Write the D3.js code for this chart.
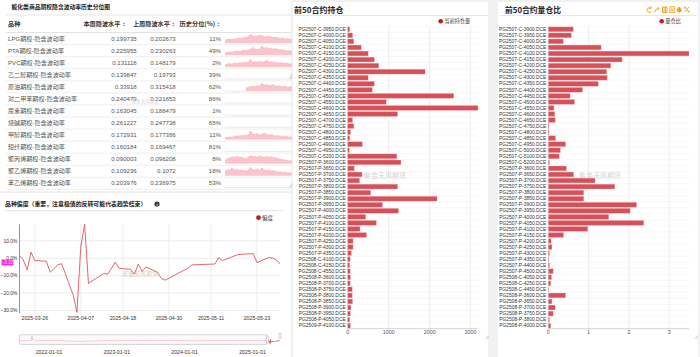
<!DOCTYPE html>
<html><head><meta charset="utf-8">
<script src="https://cdn.jsdelivr.net/npm/d3@7"></script>
<style>
html,body{margin:0;padding:0;background:#f1f1f1;}
svg{display:block;font-family:"Liberation Sans","Noto Sans CJK SC",sans-serif;}
</style></head><body>
<svg id="c" width="700" height="357"></svg>
<script>
// ---------------- DATA ----------------
const tableTitle = "能化类商品期权隐含波动率历史分位图";
const tableHeaders = ["品种", "本周隐波水平", "上周隐波水平", "历史分位(%)"];
const varieties = ["LPG期权-隐含波动率","PTA期权-隐含波动率","PVC期权-隐含波动率","乙二醇期权-隐含波动率","原油期权-隐含波动率","对二甲苯期权-隐含波动率","尿素期权-隐含波动率","烧碱期权-隐含波动率","甲醇期权-隐含波动率","短纤期权-隐含波动率","聚丙烯期权-隐含波动率","聚乙烯期权-隐含波动率","苯乙烯期权-隐含波动率"];
const thisWeekVol = [0.199735,0.225955,0.131118,0.139847,0.33918,0.240479,0.163045,0.261227,0.172931,0.160184,0.090003,0.109236,0.203976];
const lastWeekVol = [0.202673,0.230263,0.148179,0.19793,0.315418,0.221853,0.188479,0.247738,0.177386,0.169467,0.096208,0.1072,0.236975];
const histPercentile = [11,49,2,39,62,86,1,65,11,81,8,18,53];
const N = null;
const sparkLPG = [0.3,0.35,0.4,0.35,0.4,0.45,0.5,0.45,0.5,0.55,0.6,0.9,0.7,0.65,0.7,0.8,0.75,0.6,0.65,0.7,0.6,0.55,0.6,0.5,0.45,0.5,0.4,0.45,0.35,0.4];
const sparkPTA = [0.2,0.25,0.3,0.3,0.35,0.4,0.35,0.4,0.5,0.45,0.5,0.55,0.8,0.6,0.55,0.6,0.9,0.7,0.8,0.65,0.7,0.6,0.65,0.55,0.5,0.55,0.45,0.4,0.45,0.35];
const sparkPVC = [0.2,0.3,0.35,0.3,0.4,0.35,0.4,0.45,0.4,0.5,0.45,0.8,0.5,0.55,0.5,0.6,0.5,0.55,0.7,0.5,0.55,0.45,0.5,0.4,0.45,0.4,0.35,0.4,0.3,0.35];
const sparkEG = [N,N,N,N,N,N,N,N,N,N,N,N,N,N,N,N,N,N,N,N,N,N,N,N,N,N,N,N,0.0,0.55];
const sparkSC = [N,N,N,N,N,N,N,N,N,0.3,0.4,0.45,0.5,0.45,0.55,0.5,0.8,0.6,0.7,0.55,0.6,0.65,0.5,0.55,0.5,0.45,0.5,0.4,0.45,0.4];
const sparkEmpty = [];
const sparkMA = [0.15,0.2,0.25,0.2,0.3,0.35,0.3,0.4,0.35,0.45,0.4,0.85,0.55,0.5,0.6,0.45,0.5,0.65,0.5,0.45,0.5,0.4,0.35,0.4,0.3,0.35,0.25,0.3,0.2,0.3];
const sparkPP = [0.3,0.5,0.55,0.7,0.6,0.75,0.6,0.65,0.55,0.5,0.6,0.8,0.7,0.75,0.6,0.8,0.7,0.6,0.75,0.6,0.7,0.55,0.6,0.5,0.45,0.4,0.35,0.3,0.25,0.3];
const sparkPE = [0.4,0.6,0.55,0.8,0.6,0.65,0.5,0.55,0.5,0.45,0.5,0.85,0.6,0.55,0.7,0.55,0.8,0.55,0.5,0.6,0.45,0.5,0.4,0.35,0.4,0.3,0.35,0.25,0.3,0.2];
const sparkEB = [N,N,N,N,N,N,N,N,N,N,N,N,N,N,N,N,N,N,N,N,N,N,N,N,N,N,N,N,0.0,0.4];
const sparkRows = [sparkLPG,sparkPTA,sparkPVC,sparkEG,sparkSC,sparkEmpty,sparkEmpty,sparkEmpty,sparkMA,sparkEmpty,sparkPP,sparkPE,sparkEB];

const skewTitle = "品种偏度（重要，注意极值的反转可能代表趋势结束）";
const skewLegend = "偏度";
const skewDates = ["2025-03-22","2025-03-23","2025-03-24","2025-03-25","2025-03-26","2025-03-29","2025-03-30","2025-04-01","2025-04-02","2025-04-05","2025-04-06","2025-04-07","2025-04-08","2025-04-09","2025-04-13","2025-04-14","2025-04-16","2025-04-17","2025-04-20","2025-04-21","2025-04-22","2025-04-23","2025-04-24","2025-04-27","2025-04-28","2025-04-29","2025-05-05","2025-05-06","2025-05-12","2025-05-13","2025-05-14","2025-05-16","2025-05-18","2025-05-22","2025-05-23","2025-05-26","2025-05-27","2025-05-28","2025-05-29"];
const skewValues = [1.5,-1.0,-6.7,3.5,-1.3,-1.7,-8.0,-3.8,-3.1,-21,-31,6.7,19.5,-14.4,-8.7,-9.2,-2.3,-5.8,-6.3,-9.2,-3.3,-7.5,-5.0,-8.0,-11.5,-12.6,-5.7,-3.8,-3.3,0.4,-1.3,0.4,2.1,2.7,-2.5,0.4,0.2,-1.0,-3.1];
const skewTickLabels = ["2025-03-26","2025-04-07","2025-04-18","2025-04-30","2025-05-11","2025-05-23"];
const skewYTicks = [-30,-20,-10,0,10];
const histDates = ["2021-07-25","2021-08-15","2021-09-05","2021-09-28","2021-10-01","2021-10-05","2021-10-20","2021-11-15","2021-12-15","2022-01-15","2022-02-15","2022-03-15","2022-04-15","2022-05-15","2022-06-15","2022-06-28","2022-07-10","2022-08-15","2022-09-15","2022-10-15","2022-11-15","2022-12-15","2023-01-15","2023-02-15","2023-03-15","2023-04-15","2023-05-15","2023-06-15","2023-07-15","2023-08-15","2023-09-15","2023-10-15","2023-11-15","2023-12-15","2024-01-15","2024-02-15","2024-03-15","2024-04-15","2024-05-15","2024-06-15","2024-07-15","2024-08-15","2024-09-15","2024-10-15","2024-11-15","2024-12-15","2025-01-15","2025-02-15","2025-03-15"];
const histValues = [1,3,2,5,58,12,6,3,4,2,5,1,-3,-2,-6,-12,-4,-2,0,1,3,2,1,3,2,4,3,5,6,4,5,3,2,3,1,2,0,2,1,3,2,1,3,6,2,4,1,3,2];
const sliderTickLabels = ["2022-01-01","2023-01-01","2024-01-01","2025-01-01"];

const holdTitle = "前50合约持仓";
const holdLegend = "当前持仓量";
const holdLabels = ["PG2507-C-3950.DCE","PG2507-C-4000.DCE","PG2507-C-4050.DCE","PG2507-C-4100.DCE","PG2507-C-4150.DCE","PG2507-C-4200.DCE","PG2507-C-4250.DCE","PG2507-C-4300.DCE","PG2507-C-4350.DCE","PG2507-C-4400.DCE","PG2507-C-4450.DCE","PG2507-C-4500.DCE","PG2507-C-4550.DCE","PG2507-C-4600.DCE","PG2507-C-4650.DCE","PG2507-C-4700.DCE","PG2507-C-4750.DCE","PG2507-C-4800.DCE","PG2507-C-4850.DCE","PG2507-C-4900.DCE","PG2507-C-4950.DCE","PG2507-C-5200.DCE","PG2507-P-3600.DCE","PG2507-P-3650.DCE","PG2507-P-3700.DCE","PG2507-P-3750.DCE","PG2507-P-3800.DCE","PG2507-P-3850.DCE","PG2507-P-3900.DCE","PG2507-P-3950.DCE","PG2507-P-4000.DCE","PG2507-P-4050.DCE","PG2507-P-4100.DCE","PG2507-P-4150.DCE","PG2507-P-4200.DCE","PG2507-P-4250.DCE","PG2507-P-4300.DCE","PG2507-P-4350.DCE","PG2508-C-4100.DCE","PG2508-C-4150.DCE","PG2508-C-4550.DCE","PG2508-P-3600.DCE","PG2508-P-3700.DCE","PG2508-P-3750.DCE","PG2508-P-3800.DCE","PG2508-P-3850.DCE","PG2508-P-3900.DCE","PG2508-P-3950.DCE","PG2508-P-4050.DCE","PG2509-P-4100.DCE"];
const holdValues = [50,120,150,330,500,650,760,1890,500,650,600,2590,940,3180,1220,120,150,70,50,360,40,1200,1300,160,350,290,1220,560,2180,850,1240,440,700,300,460,130,130,90,60,50,60,70,60,110,110,120,80,65,50,65];
const holdTicks = [0,1000,2000,3000];

const ratioTitle = "前50合约量仓比";
const ratioLegend = "量仓比";
const ratioLabels = ["PG2507-C-3900.DCE","PG2507-C-3950.DCE","PG2507-C-4000.DCE","PG2507-C-4050.DCE","PG2507-C-4100.DCE","PG2507-C-4150.DCE","PG2507-C-4200.DCE","PG2507-C-4250.DCE","PG2507-C-4300.DCE","PG2507-C-4350.DCE","PG2507-C-4400.DCE","PG2507-C-4450.DCE","PG2507-C-4500.DCE","PG2507-C-4550.DCE","PG2507-C-4600.DCE","PG2507-C-4650.DCE","PG2507-C-4750.DCE","PG2507-C-4800.DCE","PG2507-C-4850.DCE","PG2507-C-4950.DCE","PG2507-C-5000.DCE","PG2507-C-5100.DCE","PG2507-C-5200.DCE","PG2507-P-3600.DCE","PG2507-P-3650.DCE","PG2507-P-3700.DCE","PG2507-P-3750.DCE","PG2507-P-3800.DCE","PG2507-P-3850.DCE","PG2507-P-3900.DCE","PG2507-P-3950.DCE","PG2507-P-4000.DCE","PG2507-P-4050.DCE","PG2507-P-4100.DCE","PG2507-P-4150.DCE","PG2507-P-4200.DCE","PG2507-P-4250.DCE","PG2507-P-4300.DCE","PG2507-P-4350.DCE","PG2507-P-4400.DCE","PG2507-P-4500.DCE","PG2508-C-4050.DCE","PG2508-C-4250.DCE","PG2508-C-4450.DCE","PG2508-P-3600.DCE","PG2508-P-3650.DCE","PG2508-P-3700.DCE","PG2508-P-3750.DCE","PG2508-P-3800.DCE","PG2508-P-4000.DCE"];
const ratioValues = [0.62,0.57,0.37,1.31,3.49,1.83,1.55,1.45,1.46,1.24,0.85,0.54,0.65,0.14,0.16,0.17,0.02,0.02,0.18,0.43,0.30,0.27,0.03,0.45,0.63,1.16,1.65,0.88,0.88,2.19,2.03,1.50,2.37,0.98,0.38,0.07,0.09,0.03,0.015,0.03,0.12,0.08,0.06,0.01,0.43,0.09,0.17,0.12,0.03,0.06];
const ratioTicks = [0,1,2,3];
const watermark = "紫金天风期货";

// ---------------- DRAW ----------------
const svg = d3.select("#c");
const CJK = '"Noto Sans CJK SC","Liberation Sans",sans-serif';
const RED = "#d6505a", DOT = "#c8161d";

// panels
[[0,0,291,191],[0,193,291,164],[293,2,195,355],[498,2,200,355]].forEach(p=>{
  svg.append("rect").attr("x",p[0]).attr("y",p[1]).attr("width",p[2]).attr("height",p[3]).attr("fill","#fff");
});

// ===== Table =====
const tg = svg.append("g");
tg.append("text").attr("x",11.5).attr("y",9.3).text(tableTitle)
  .attr("font-family",CJK).attr("font-weight","bold").attr("font-size",5.8).attr("fill","#222");
tg.append("line").attr("x1",6).attr("x2",291).attr("y1",15).attr("y2",15).attr("stroke","#e6e6e6").attr("stroke-width",1);
const rowY = i => 38.7 + i*12.05;
const hdrY = 26.2;
const hdrPos = [[8,"start"],[120.5,"end"],[170,"end"],[215,"end"]];
tableHeaders.forEach((h,i)=>{
  tg.append("text").attr("x",hdrPos[i][0]).attr("y",hdrY).attr("text-anchor",hdrPos[i][1])
    .attr("font-size",6.2).attr("font-weight","bold").attr("fill","#333").attr("font-family",CJK).text(h);
  if(i>0){
    const sx = hdrPos[i][0]+3.5;
    tg.append("path").attr("d",`M${sx-1.3},${hdrY-2.2}L${sx},${hdrY-3.8}L${sx+1.3},${hdrY-2.2}Z M${sx-1.3},${hdrY-1.2}L${sx},${hdrY+0.4}L${sx+1.3},${hdrY-1.2}Z`)
      .attr("fill","#44b3b5");
  }
});
tg.append("line").attr("x1",6).attr("x2",291).attr("y1",32.5).attr("y2",32.5).attr("stroke","#e2e2e2");
const sx = d3.scaleLinear().domain([0,29]).range([225,292]);
varieties.forEach((v,i)=>{
  const y = rowY(i);
  tg.append("text").attr("x",8).attr("y",y+2.1).attr("font-size",6.1).attr("fill","#555").text(v);
  tg.append("text").attr("x",136.7).attr("y",y+2.1).attr("text-anchor","end").attr("font-size",6.1).attr("fill","#555").text(String(thisWeekVol[i]));
  tg.append("text").attr("x",175.7).attr("y",y+2.1).attr("text-anchor","end").attr("font-size",6.1).attr("fill","#555").text(String(lastWeekVol[i]));
  tg.append("text").attr("x",221).attr("y",y+2.1).attr("text-anchor","end").attr("font-size",6.1).attr("fill","#555").text(histPercentile[i]+"%");
  tg.append("line").attr("x1",6).attr("x2",291).attr("y1",y+6).attr("y2",y+6).attr("stroke","#eeeeee");
  // sparkline
  const base = y+4.2;
  tg.append("line").attr("x1",225).attr("x2",292).attr("y1",base).attr("y2",base).attr("stroke","#dfe5ef").attr("stroke-width",0.8);
  const data = sparkRows[i];
  if(data.length){
    const sy = d3.scaleLinear().domain([0,1]).range([base, y-5.5]);
    const area = d3.area().defined(d=>d!=null).x((d,j)=>sx(j)).y0(base).y1(d=>sy(d));
    const line = d3.line().defined(d=>d!=null).x((d,j)=>sx(j)).y(d=>sy(d));
    tg.append("path").attr("d",area(data)).attr("fill","#fbc3cb");
    tg.append("path").attr("d",line(data)).attr("fill","none").attr("stroke","#f7a6b3").attr("stroke-width",0.5);
  }
});
tg.append("text").attr("x",145).attr("y",103).attr("text-anchor","middle").attr("font-size",4.5).attr("fill","#d2d2d2").attr("font-family",CJK).text(watermark);

// ===== Skew line chart =====
const lg = svg.append("g");
lg.append("text").attr("x",5).attr("y",206.2).attr("font-family",CJK).attr("font-weight","bold").attr("font-size",5.9).attr("fill","#222").text(skewTitle);
lg.append("circle").attr("cx",157).attr("cy",204).attr("r",2.6).attr("fill","#333");
lg.append("text").attr("x",157).attr("y",205.8).attr("text-anchor","middle").attr("font-size",4.2).attr("font-weight","bold").attr("fill","#fff").text("i");
lg.append("line").attr("x1",5).attr("x2",283).attr("y1",210.7).attr("y2",210.7).attr("stroke","#e2e2e2");
lg.append("circle").attr("cx",258.5).attr("cy",217.7).attr("r",2.4).attr("fill",DOT);
lg.append("text").attr("x",262).attr("y",219.7).attr("font-size",5.5).attr("fill","#333").attr("font-family",CJK).text(skewLegend);

const parse = d3.timeParse("%Y-%m-%d");
const sDates = skewDates.map(parse);
const x = d3.scaleTime().domain([parse("2025-03-22"), parse("2025-05-29")]).range([19.5,280]);
const y = d3.scaleLinear().domain([-31.6,19.5]).range([313.3,224.3]);
skewYTicks.forEach(t=>{
  lg.append("line").attr("x1",19.5).attr("x2",280).attr("y1",y(t)).attr("y2",y(t)).attr("stroke","#ececec");
  lg.append("text").attr("x",17.3).attr("y",y(t)+1.8).attr("text-anchor","end").attr("font-size",4.9).attr("fill","#333").text(d3.format(".1f")(t)+"%");
});
skewTickLabels.forEach(t=>{
  const xx = x(parse(t));
  lg.append("line").attr("x1",xx).attr("x2",xx).attr("y1",224.3).attr("y2",313.3).attr("stroke","#ececec");
  lg.append("text").attr("x",xx).attr("y",320).attr("text-anchor","middle").attr("font-size",5.2).attr("fill","#333").text(t);
});
lg.append("line").attr("x1",19.5).attr("x2",19.5).attr("y1",224.3).attr("y2",313.3).attr("stroke","#777").attr("stroke-width",0.8);
lg.append("text").attr("x",140).attr("y",276).attr("text-anchor","middle").attr("font-size",6).attr("fill","#d2d2d2").attr("font-family",CJK).text(watermark);
const skewLine = d3.line().x((d,i)=>x(sDates[i])).y(d=>y(d));
lg.append("path").attr("d",skewLine(skewValues)).attr("fill","none").attr("stroke","#e0555f").attr("stroke-width",0.9);
const lastV = skewValues[skewValues.length-1];
lg.append("rect").attr("x",1.5).attr("y",y(lastV)-4.2).attr("width",12).attr("height",6).attr("fill","#ff2bd6");
lg.append("text").attr("x",7.5).attr("y",y(lastV)+0.8).attr("text-anchor","middle").attr("font-size",4.6).attr("fill","#ffd0f4").text(d3.format(".2f")(lastV));

// slider
const hx = d3.scaleTime().domain([parse("2021-07-25"), parse("2025-05-29")]).range([19.3,280]);
const hy = d3.scaleLinear().domain([-35,60]).range([344,335.5]);
lg.append("rect").attr("x",19.3).attr("y",334.7).attr("width",248).attr("height",9.7).attr("rx",1.5)
  .attr("fill","#fafafa").attr("stroke","#c9c9c9").attr("stroke-width",0.8);
const hDates = histDates.map(parse);
lg.append("path").attr("d",d3.line().x((d,i)=>hx(hDates[i])).y(d=>hy(d))(histValues)).attr("fill","none").attr("stroke","#f2a9b2").attr("stroke-width",0.6);
lg.append("path").attr("d",d3.line().x((d,i)=>hx(sDates[i])).y(d=>hy(d))(skewValues)).attr("fill","none").attr("stroke","#d9363f").attr("stroke-width",0.7);
lg.append("rect").attr("x",266.3).attr("y",336).attr("width",2).attr("height",7).attr("fill","#fff").attr("stroke","#aaa").attr("stroke-width",0.5);
lg.append("rect").attr("x",279).attr("y",333.3).attr("width",2).attr("height",5).attr("fill","#fff").attr("stroke","#aaa").attr("stroke-width",0.5);
sliderTickLabels.forEach(t=>{
  lg.append("text").attr("x",hx(parse(t))).attr("y",354.2).attr("text-anchor","middle").attr("font-size",5.2).attr("fill","#333").text(t);
});

// ===== Horizontal bar charts =====
function barChart(o){
  const g = svg.append("g");
  g.append("text").attr("x",o.titleX).attr("y",12.6).attr("font-family",CJK).attr("font-weight","bold").attr("font-size",o.titleSize).attr("fill","#222").text(o.title);
  g.append("line").attr("x1",o.panelX0).attr("x2",o.panelX1).attr("y1",15.5).attr("y2",15.5).attr("stroke","#e6e6e6");
  g.append("circle").attr("cx",o.legendX).attr("cy",21.3).attr("r",2.3).attr("fill",DOT);
  g.append("text").attr("x",o.legendX+3.6).attr("y",23.2).attr("font-size",5.2).attr("fill","#333").attr("font-family",CJK).text(o.legend);
  const yb = d3.scaleBand().domain(o.labels).range([26.3,328.7]).paddingInner(0.2).paddingOuter(0.1);
  const xs = d3.scaleLinear().domain([0,d3.max(o.values)]).range([o.x0,o.x1]);
  o.labels.forEach((l,i)=>{
    const yy = 26.3 + i*yb.step();
    g.append("line").attr("x1",o.x0).attr("x2",o.x1).attr("y1",yy).attr("y2",yy).attr("stroke","#f3f3f3").attr("stroke-width",0.6);
  });
  o.ticks.forEach(t=>{
    if(t>0) g.append("line").attr("x1",xs(t)).attr("x2",xs(t)).attr("y1",26.3).attr("y2",328.7).attr("stroke","#e9e9e9").attr("stroke-width",0.8);
    g.append("text").attr("x",xs(t)).attr("y",334.3).attr("text-anchor","middle").attr("font-size",5.4).attr("fill","#555").text(t);
    g.append("line").attr("x1",xs(t)).attr("x2",xs(t)).attr("y1",328.7).attr("y2",330.5).attr("stroke","#bbb").attr("stroke-width",0.6);
  });
  g.append("line").attr("x1",o.x0).attr("x2",o.x1).attr("y1",328.7).attr("y2",328.7).attr("stroke","#c8c8c8").attr("stroke-width",0.8);
  g.append("line").attr("x1",o.x0).attr("x2",o.x0).attr("y1",26.3).attr("y2",328.7).attr("stroke","#d8d8d8").attr("stroke-width",0.6);
  g.append("text").attr("x",o.wmX).attr("y",178).attr("text-anchor","middle").attr("font-size",7).attr("fill","#d4d4d4").attr("font-family",CJK).text(watermark);
  g.selectAll("rect.bar").data(o.values).enter().append("rect").attr("class","bar")
    .attr("x",o.x0).attr("y",(d,i)=>yb(o.labels[i])).attr("height",yb.bandwidth())
    .attr("width",d=>Math.max(0.3,xs(d)-o.x0)).attr("fill",RED).attr("stroke","#f3b7bc").attr("stroke-width",0.35);
  g.selectAll("text.lab").data(o.labels).enter().append("text").attr("class","lab")
    .attr("x",o.x0-2).attr("y",d=>yb(d)+yb.bandwidth()/2+1.7).attr("text-anchor","end")
    .attr("font-size",4.9).attr("fill","#333").text(d=>d);
  g.append("path").attr("d",`M${o.panelX1-2.5},${338}L${o.panelX1},${338}L${o.panelX1},${335.5}`).attr("fill","none").attr("stroke","#999").attr("stroke-width",0.5);
  return g;
}
barChart({title:holdTitle,titleX:294,titleSize:8,panelX0:293,panelX1:488,legendX:440.7,legend:holdLegend,
  labels:holdLabels,values:holdValues,ticks:holdTicks,x0:347.7,x1:478,wmX:385});
const rg = barChart({title:ratioTitle,titleX:505,titleSize:7.8,panelX0:500,panelX1:697,legendX:661.7,legend:ratioLegend,
  labels:ratioLabels,values:ratioValues,ticks:ratioTicks,x0:548.3,x1:689,wmX:600});

// toolbox icons (right panel)
const ic = rg.append("g").attr("stroke","#f0a020").attr("fill","none").attr("stroke-width",0.9);
ic.append("path").attr("d","M651,8.2 A2.4,2.4 0 1 0 651.4,11.5 M651,6.2 L651,8.4 L648.8,8.4");
ic.append("path").attr("d","M654.5,12.5 Q655,8.5 659,8.5 M657.5,7 L659.3,8.5 L657.5,10");
ic.append("rect").attr("x",662.5).attr("y",7).attr("width",4.5).attr("height",5.5);
ic.append("path").attr("d","M664,7 L664,12.5 M665.5,7 L665.5,12.5");
ic.append("rect").attr("x",670).attr("y",6.8).attr("width",4.2).attr("height",5.8);
ic.append("path").attr("d","M671,9 L673.2,9 M671,10.6 L673.2,10.6");
ic.append("path").attr("d","M677.3,11.5 L677.8,8.5 Q679.3,6 680.8,8.5 L681.3,11.5 Z M678.8,12.5 L679.8,12.5").attr("fill","#f0a020");
ic.append("path").attr("d","M684.5,7 L689,12 M689,7 L684.5,12 M684.5,7 L686,7 M684.5,7 L684.5,8.5 M689,12 L687.5,12 M689,12 L689,10.5");
</script>
</body></html>
